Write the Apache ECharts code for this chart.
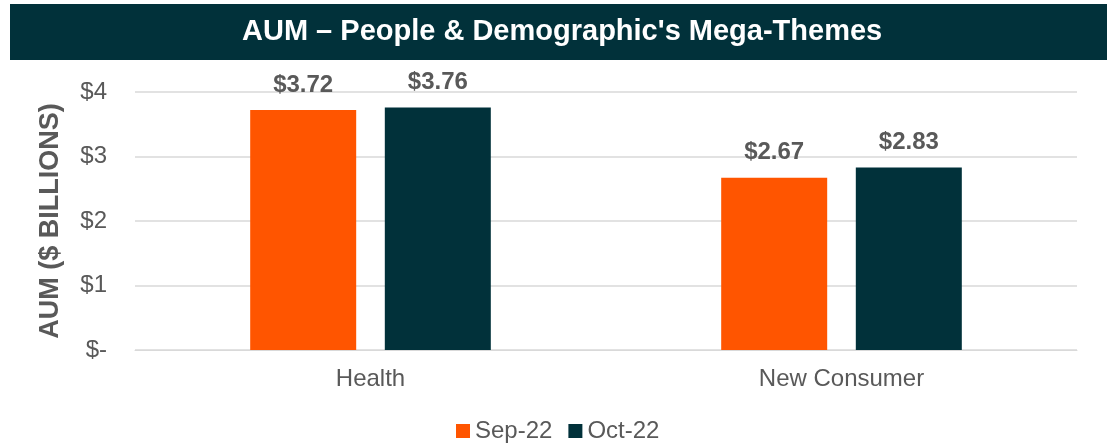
<!DOCTYPE html>
<html><head><meta charset="utf-8">
<script src="https://cdn.jsdelivr.net/npm/echarts@6/dist/echarts.min.js"></script>
<style>html,body{margin:0;padding:0;background:#fff}#c{width:1107px;height:445px}</style>
</head><body><div id="c"></div>
<script>
const categories = ['Health', 'New Consumer'];
const seriesNames = ['Sep-22', 'Oct-22'];
const sep22 = [3.72, 2.67];
const oct22 = [3.76, 2.83];
const titleText = "AUM \u2013 People & Demographic's Mega-Themes";
const yAxisName = 'AUM ($ BILLIONS)';

const chart = echarts.init(document.getElementById('c'), null, {renderer: 'canvas'});
const FONT = '"Liberation Sans", Arial, sans-serif';
const GRAY = '#595959';
const labelCfg = {show: true, position: 'top', distance: 13, color: GRAY, fontWeight: 'bold', fontSize: 24, fontFamily: FONT, formatter: p => '$' + p.value.toFixed(2)};
chart.setOption({
  animation: false,
  graphic: [{type: 'rect', shape: {x: 10, y: 4, width: 1097, height: 56}, style: {fill: '#01313A'}, z: -1},
            {type: 'text', left: 242, top: 17, style: {text: titleText, fill: '#fff', font: 'bold 29px ' + FONT}}],
  grid: {left: 135, right: 30, top: 92, bottom: 95},
  legend: {top: 414, left: 451, itemWidth: 14, itemHeight: 14, itemGap: 16, icon: 'rect',
    textStyle: {color: GRAY, fontSize: 24, fontFamily: FONT}, data: seriesNames},
  xAxis: {type: 'category', data: categories, axisTick: {show: false},
    axisLine: {lineStyle: {color: '#d9d9d9'}},
    axisLabel: {color: GRAY, fontSize: 24, fontFamily: FONT, margin: 17}},
  yAxis: {type: 'value', min: 0, max: 4, interval: 1, name: yAxisName, nameLocation: 'middle', nameGap: 71,
    nameTextStyle: {color: GRAY, fontSize: 27, fontWeight: 'bold', fontFamily: FONT},
    axisLine: {show: false}, axisTick: {show: false},
    splitLine: {lineStyle: {color: '#d9d9d9', width: 1.5}},
    axisLabel: {color: GRAY, fontSize: 24, fontFamily: FONT, margin: 28, formatter: v => v === 0 ? '$-' : '$' + v}},
  series: [
    {name: seriesNames[0], type: 'bar', data: sep22, barWidth: 106, barGap: '27%', itemStyle: {color: '#FF5500'}, label: labelCfg},
    {name: seriesNames[1], type: 'bar', data: oct22, barWidth: 106, itemStyle: {color: '#01313A'}, label: labelCfg}
  ]
});
</script></body></html>
